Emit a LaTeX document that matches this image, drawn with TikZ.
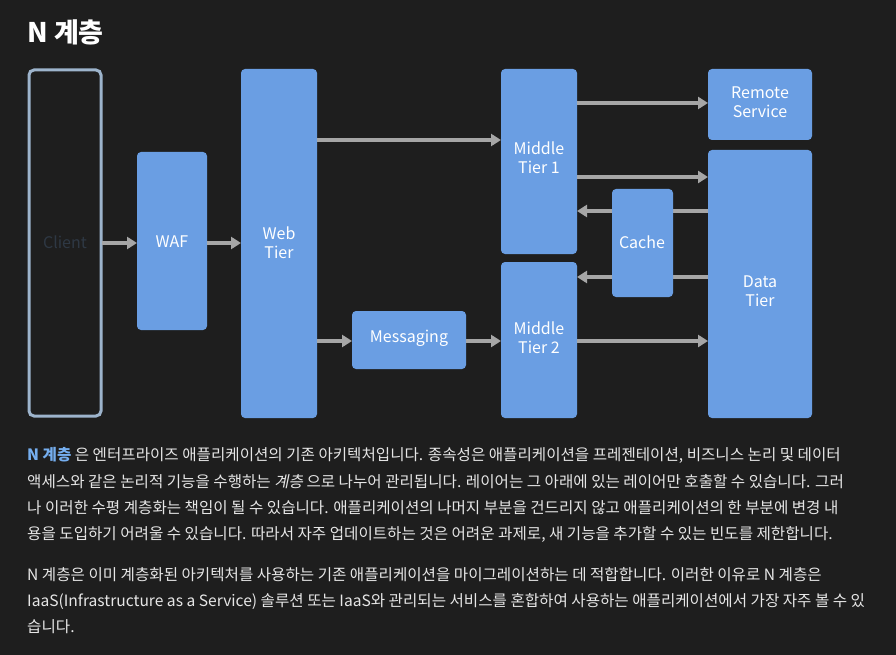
\documentclass[tikz,border=0pt]{standalone}
\usepackage{fontspec}
\setmainfont{Noto Sans CJK KR}
\newfontfamily\krit[FakeSlant=0.2]{Noto Sans CJK KR}
\usetikzlibrary{arrows.meta}
\definecolor{bg}{HTML}{1E1E1E}
\definecolor{boxc}{HTML}{6A9EE3}
\definecolor{arr}{HTML}{A6A6A6}
\definecolor{txt}{HTML}{E6E6E6}
\definecolor{lnk}{HTML}{75AEEF}
\definecolor{cl}{HTML}{9DB4CC}
\definecolor{cltxt}{HTML}{2E3844}
\begin{document}
\begin{tikzpicture}[x=1pt,y=-1pt,
  tier/.style={fill=boxc,rounded corners=4pt,text=white,font=\fontsize{16}{19}\selectfont,align=center,inner sep=0},
  con/.style={draw=arr,line width=4pt,-{Triangle[length=10pt,width=12pt]}},
  para/.style={anchor=west,text=txt,font=\fontsize{15.6}{18}\selectfont,inner sep=0}]
\fill[bg] (0,0) rectangle (896,655);
\useasboundingbox (0,0) rectangle (896,655);
\node[anchor=west,text=white,font=\bfseries\fontsize{27}{30}\selectfont,inner sep=0] (title) at (27,32) {N 계층};
\draw[cl,line width=3pt,rounded corners=5pt] (29,70) rectangle (101,416);
\node[text=cltxt,font=\fontsize{16}{19}\selectfont] (client) at (65,242) {Client};
\path[tier] (137,152) rectangle (207,330); \node[tier,fill=none] (waf) at (172,242) {WAF};
\path[tier] (241,69) rectangle (317,418); \node[tier,fill=none] (web) at (279,243) {Web\\Tier};
\path[tier] (352,311) rectangle (466,369); \node[tier,fill=none] (msg) at (409,338) {Messaging};
\path[tier] (501,69) rectangle (577,254); \node[tier,fill=none] (mt1) at (539,158) {Middle\\Tier 1};
\path[tier] (501,262) rectangle (577,418); \node[tier,fill=none] (mt2) at (539,338) {Middle\\Tier 2};
\path[tier] (708,69) rectangle (812,140); \node[tier,fill=none] (rs) at (760,102) {Remote\\Service};
\path[tier] (708,150) rectangle (812,418); \node[tier,fill=none] (dt) at (760,291) {Data\\Tier};
\coordinate (c1) at (102,243); \coordinate (w1) at (137,243);
\coordinate (w2) at (207,243); \coordinate (b1) at (241,243);
\coordinate (b2) at (317,140); \coordinate (m1a) at (501,140);
\coordinate (b3) at (317,341); \coordinate (g1) at (352,341);
\coordinate (g2) at (466,341); \coordinate (m2a) at (501,341);
\coordinate (m1b) at (577,103); \coordinate (r1) at (708,103);
\coordinate (m1c) at (577,177); \coordinate (d1) at (708,177);
\coordinate (d2) at (708,211); \coordinate (m1d) at (577,211);
\coordinate (d3) at (708,277); \coordinate (m2b) at (577,277);
\coordinate (m2c) at (577,341); \coordinate (d4) at (708,341);
\draw[con] (c1) -- (w1); \draw[con] (w2) -- (b1);
\draw[con] (b2) -- (m1a); \draw[con] (b3) -- (g1); \draw[con] (g2) -- (m2a);
\draw[con] (m1b) -- (r1); \draw[con] (m1c) -- (d1);
\draw[con] (d2) -- (m1d); \draw[con] (d3) -- (m2b); \draw[con] (m2c) -- (d4);
\path[tier] (612,189) rectangle (673,297); \node[tier,fill=none] (cache) at (642,242) {Cache};
\node[para] (p1) at (27,455) {\textcolor{lnk}{\bfseries N 계층} 은 엔터프라이즈 애플리케이션의 기존 아키텍처입니다. 종속성은 애플리케이션을 프레젠테이션, 비즈니스 논리 및 데이터};
\node[para] (p2) at (27,482) {액세스와 같은 논리적 기능을 수행하는 {\krit 계층} 으로 나누어 관리됩니다. 레이어는 그 아래에 있는 레이어만 호출할 수 있습니다. 그러};
\node[para] (p3) at (27,508) {나 이러한 수평 계층화는 책임이 될 수 있습니다. 애플리케이션의 나머지 부분을 건드리지 않고 애플리케이션의 한 부분에 변경 내};
\node[para] (p4) at (27,534) {용을 도입하기 어려울 수 있습니다. 따라서 자주 업데이트하는 것은 어려운 과제로, 새 기능을 추가할 수 있는 빈도를 제한합니다.};
\node[para] (p5) at (27,575) {N 계층은 이미 계층화된 아키텍처를 사용하는 기존 애플리케이션을 마이그레이션하는 데 적합합니다. 이러한 이유로 N 계층은};
\node[para] (p6) at (27,601) {IaaS(Infrastructure as a Service) 솔루션 또는 IaaS와 관리되는 서비스를 혼합하여 사용하는 애플리케이션에서 가장 자주 볼 수 있};
\node[para] (p7) at (27,627) {습니다.};
\end{tikzpicture}
\end{document}
